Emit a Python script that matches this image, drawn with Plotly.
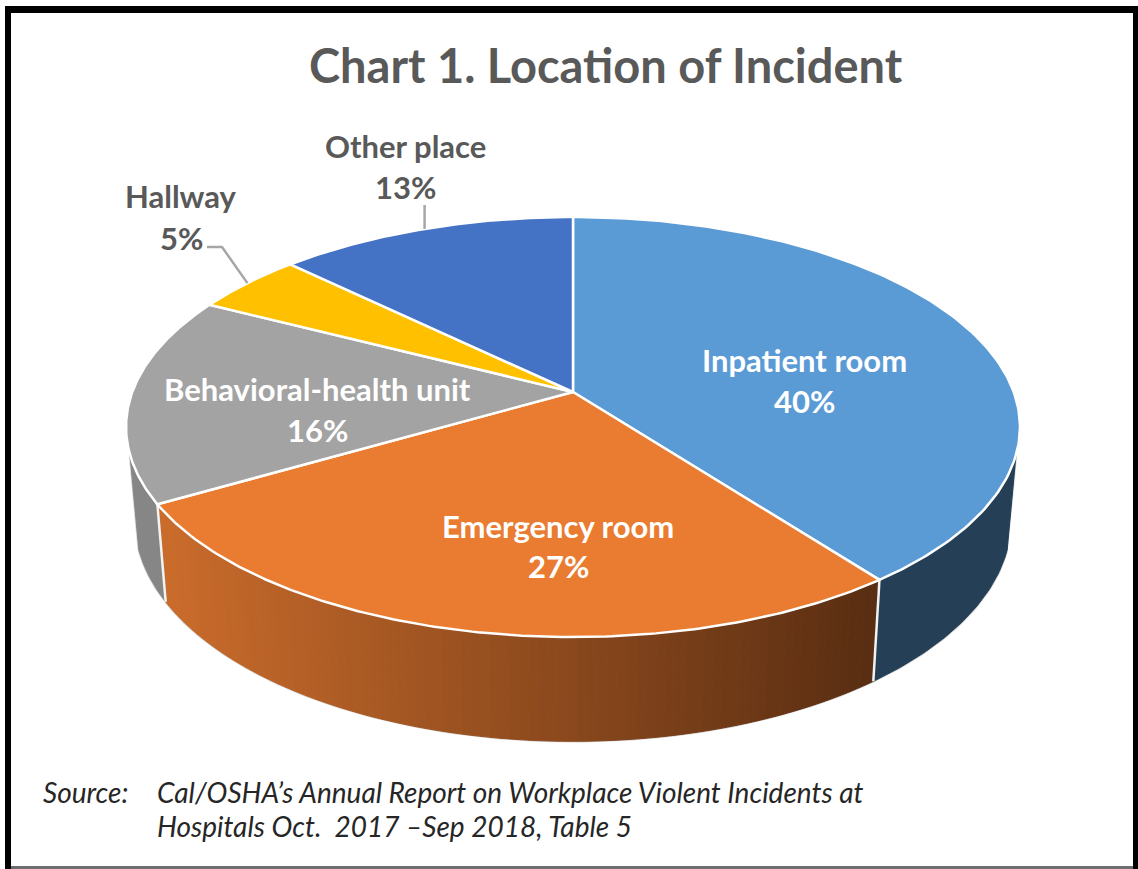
import numpy as np
import plotly.graph_objects as go

# ---- data ----
categories = ["Inpatient room", "Emergency room", "Behavioral-health unit", "Hallway", "Other place"]
shares = [39.7, 26.9, 16.0, 4.7, 12.7]   # slice sizes; labels show them rounded
title_text = "Chart 1. Location of Incident"
source_label = "Source:"
source_lines = ["Cal/OSHA’s Annual Report on Workplace Violent Incidents at",
                "Hospitals Oct.  2017 –Sep 2018, Table 5"]

# ---- styling ----
top_colors = ["#5B9BD5", "#E97C30", "#A3A3A3", "#FFC000", "#4472C4"]
W, H = 1138, 869
FONT = "Lato, Carlito, Calibri, sans-serif"
CX, CY, A, B, K = 573.0, 392.0, 440.7, 204.2, 1 / 6   # projection of the top disc
SX, SY, Y0 = 0.98, 1.05, 484.0                         # projection of the bottom disc
WALL_START, WALL_END = 107.0, 253.0                    # silhouette angles of the side wall


def top_rim(theta):
    t = np.radians(theta)
    w = 1 + K * np.cos(t)
    return CX + A * np.sin(t) / w, CY - B * np.cos(t) / w


def bottom_rim(theta):
    t = np.radians(theta)
    w = 1 + K * np.cos(t)
    return CX + SX * A * np.sin(t) / w, Y0 - SY * B * np.cos(t) / w


total = sum(shares)
edges = np.concatenate([[0], np.cumsum(shares)]) * 360.0 / total
fig = go.Figure()


def poly(xs, ys, fill, line=None, lw=1, name=None):
    fig.add_trace(go.Scatter(x=list(xs), y=list(ys), mode="lines", fill="toself", fillcolor=fill,
                             line=dict(color=line or fill, width=lw), hoverinfo="text",
                             text=name, showlegend=False))


def wall(t0, t1, fill, name):
    th = np.linspace(t0, t1, 60)
    xt, yt = top_rim(th)
    xb, yb = bottom_rim(th)
    poly(np.r_[xt, xb[::-1], xt[0]], np.r_[yt, yb[::-1], yt[0]], fill, name=name)


def orange_at(x):
    f = np.clip((x - 167) / (870 - 167), 0, 1)
    c0, c1 = np.array([201, 107, 43]), np.array([90, 46, 18])
    r, g, b = (c0 + (c1 - c0) * f).round().astype(int)
    return f"rgb({r},{g},{b})"


# light outline along the bottom and sides of the wall
th = np.linspace(WALL_START, WALL_END, 200)
bx, by = bottom_rim(th)
tsx, tsy = top_rim(WALL_START)
tex, tey = top_rim(WALL_END)
fig.add_trace(go.Scatter(x=np.r_[tsx, bx, tex], y=np.r_[tsy, by, tey], mode="lines",
                         line=dict(color="#D4D4D4", width=2.5),
                         hoverinfo="skip", showlegend=False))

# side walls: behavioural unit, then blue, then the shaded orange one in narrow strips
wall(edges[2], WALL_END, "#868686", categories[2])
wall(WALL_START, edges[1], "#243F56", categories[0])
strip_edges = np.linspace(edges[1], edges[2], 91)
for a0, a1 in zip(strip_edges[:-1], strip_edges[1:]):
    xm = float(top_rim((a0 + a1) / 2)[0])
    wall(a0, a1, orange_at(xm), categories[1])

# seams between walls
for e in (edges[1], edges[2]):
    xt, yt = top_rim(e)
    xb, yb = bottom_rim(e)
    fig.add_trace(go.Scatter(x=[xt, xb], y=[yt, yb], mode="lines", line=dict(color="#F2F2F2", width=2.5),
                             hoverinfo="skip", showlegend=False))

# top faces
for i, cat in enumerate(categories):
    th = np.linspace(edges[i], edges[i + 1], 160)
    xr, yr = top_rim(th)
    poly(np.r_[CX, xr, CX], np.r_[CY, yr, CY], top_colors[i], line="#FFFFFF", lw=2.5,
         name=f"{cat}: {round(shares[i])}%")

# leader lines from the rim at each outside slice's mid angle
mid_hall = (edges[3] + edges[4]) / 2
hx, hy = top_rim(mid_hall)
fig.add_trace(go.Scatter(x=[207, 222, hx], y=[247, 247, hy], mode="lines",
                         line=dict(color="#A6A6A6", width=2.5), hoverinfo="skip", showlegend=False))
mid_other = (edges[4] + edges[5]) / 2
ox, oy = top_rim(mid_other)
fig.add_trace(go.Scatter(x=[ox, ox], y=[205, oy], mode="lines",
                         line=dict(color="#A6A6A6", width=2.5), hoverinfo="skip", showlegend=False))


def label(x, y, text, size, color, bold=True, anchor="center", italic=False):
    s = f"<b>{text}</b>" if bold else text
    s = f"<i>{s}</i>" if italic else s
    fig.add_annotation(x=x, y=y, xref="x", yref="y", text=s, showarrow=False, xanchor=anchor,
                       yanchor="middle", font=dict(family=FONT, size=size, color=color))


label(606, 65, title_text, 47, "#595959")
GREY, WHITE = "#595959", "#FFFFFF"
label_pos = [(804, 360, 401, WHITE), (558, 526, 566, WHITE), (317, 389, 430, WHITE),
             (181, 196, 238, GREY), (405, 146, 187, GREY)]
for (x, y1, y2, col), cat, v in zip(label_pos, categories, shares):
    label(x, y1, cat, 31, col)
    label(x, y2, f"{round(v)}%", 31, col)

label(41, 792, source_label, 28, "#262626", bold=False, anchor="left", italic=True)
label(155, 792, source_lines[0], 28, "#262626", bold=False, anchor="left", italic=True)
label(155, 826, source_lines[1], 28, "#262626", bold=False, anchor="left", italic=True)

# black photo frame
frame = [(5, 6, 1138, 13), (5, 6, 11, 869), (1133, 6, 1138, 869)]
shapes = [dict(type="rect", xref="x", yref="y", x0=a, y0=b, x1=c, y1=d,
               fillcolor="#000000", line=dict(width=0)) for a, b, c, d in frame]
shapes.append(dict(type="rect", xref="x", yref="y", x0=11, y0=866, x1=1133, y1=869,
                   fillcolor="#6E6E6E", line=dict(width=0)))

fig.update_layout(width=W, height=H, margin=dict(l=0, r=0, t=0, b=0), showlegend=False,
                  paper_bgcolor="#FFFFFF", plot_bgcolor="#FFFFFF", shapes=shapes,
                  xaxis=dict(range=[0, W], visible=False, fixedrange=True),
                  yaxis=dict(range=[H, 0], visible=False, fixedrange=True))
fig.write_html("out.html", config=dict(displayModeBar=False),
               post_script="document.body.style.margin='0';document.documentElement.style.overflow='hidden';")
